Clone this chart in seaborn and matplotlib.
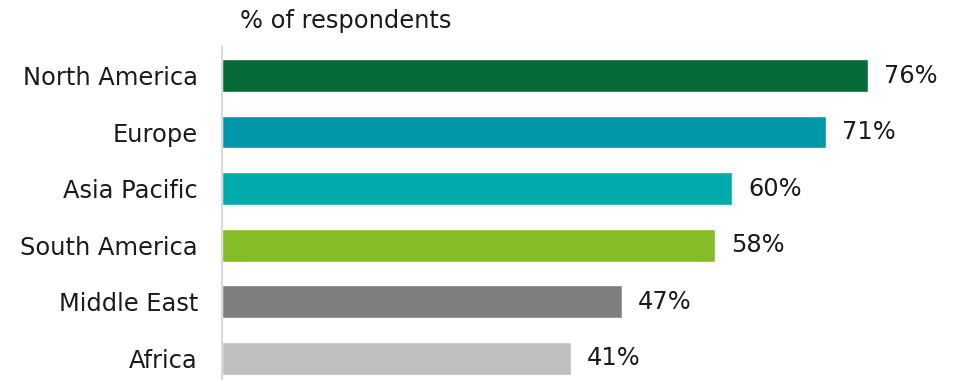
import matplotlib
matplotlib.use("Agg")
import matplotlib.pyplot as plt
import seaborn as sns
import pandas as pd

regions = ["North America", "Europe", "Asia Pacific", "South America", "Middle East", "Africa"]
values = [76, 71, 60, 58, 47, 41]
colors = ["#076B38", "#0097A9", "#00ABAB", "#86BC25", "#7F7F7F", "#BFBFBF"]
title = "% of respondents"

sns.set_theme(style="white")
plt.rcParams["font.family"] = ["DejaVu Sans"]

FS = 17.4
df = pd.DataFrame({"region": regions, "value": values})

fig = plt.figure(figsize=(9.58, 3.8), dpi=100)
ax = fig.add_axes([222 / 958, 0, 1 - 222 / 958, (380 - 47) / 380])

sns.barplot(data=df, x="value", y="region", hue="region", palette=colors,
            order=regions, hue_order=regions, dodge=False, legend=False,
            width=0.58, saturation=1, ax=ax)

ax.set_xlim(0, (958 - 222) / 8.5)
ax.set_ylim(5.384, -0.504)
ax.set_xlabel("")
ax.set_ylabel("")
ax.set_xticks([])
ax.tick_params(axis="y", length=0, labelsize=FS, pad=17.3, labelcolor="#1a1a1a")
for s in ["top", "right", "bottom"]:
    ax.spines[s].set_visible(False)
ax.spines["left"].set_color("#D9D9D9")
ax.spines["left"].set_linewidth(1.5)

for i, v in enumerate(values):
    ax.annotate(f"{v}%", xy=(v, i), xytext=(16, 0), textcoords="offset pixels",
                va="center", ha="left", fontsize=FS, color="#1a1a1a")

fig.text(240 / 958, 1 - 21 / 380, title, ha="left", va="center", fontsize=FS, color="#1a1a1a")

fig.savefig("out.png", dpi=100)
